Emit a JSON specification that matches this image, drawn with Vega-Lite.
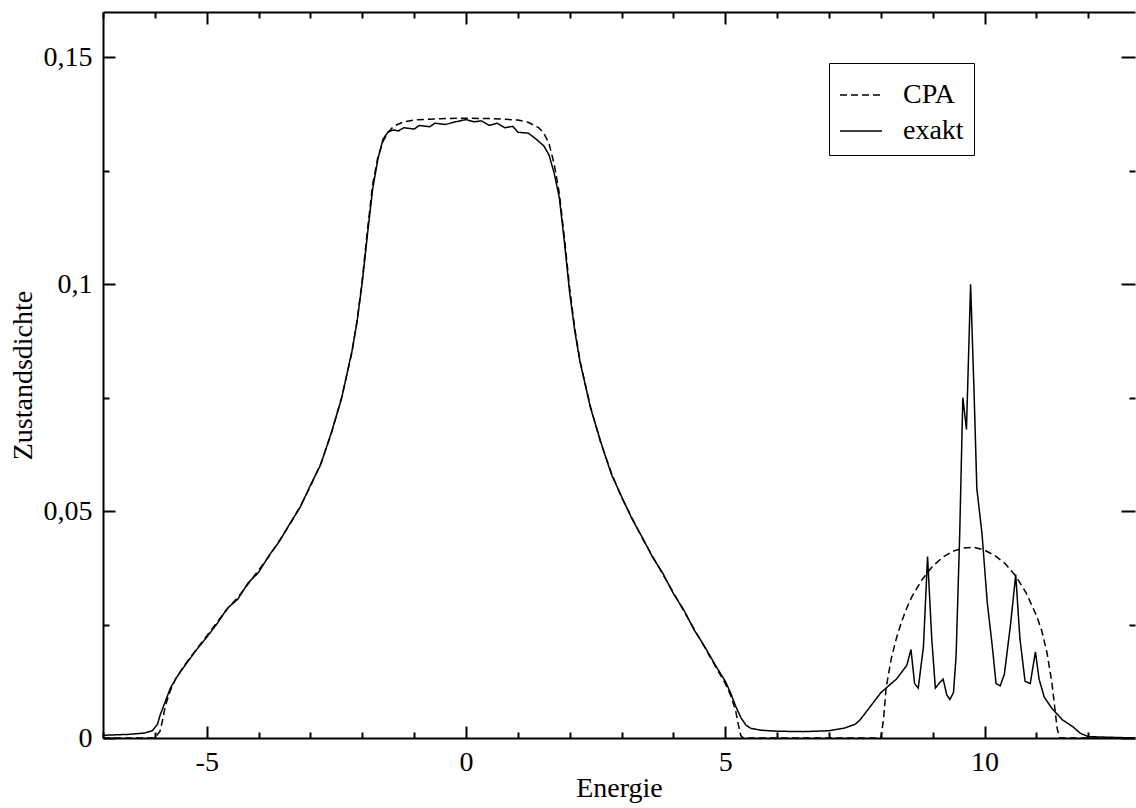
{
  "$schema": "https://vega.github.io/schema/vega-lite/v6.json",
  "width": 1032,
  "height": 726,
  "autosize": "none",
  "padding": {"left": 103, "top": 12, "right": 1, "bottom": 70},
  "background": "white",
  "config": {"view": {"stroke": null}, "font": "'Liberation Serif', serif"},
  "datasets": {
    "dos": [
      {"s":"CPA","x":-7.0,"y":0},{"s":"CPA","x":-6.0,"y":0},{"s":"CPA","x":-5.9,"y":0.0015},{"s":"CPA","x":-5.85,"y":0.004},{"s":"CPA","x":-5.8,"y":0.007},{"s":"CPA","x":-5.7,"y":0.0105},{"s":"CPA","x":-5.6,"y":0.013},{"s":"CPA","x":-5.5,"y":0.0148},{"s":"CPA","x":-5.4,"y":0.0165},{"s":"CPA","x":-5.2,"y":0.0195},{"s":"CPA","x":-5.0,"y":0.0225},{"s":"CPA","x":-4.8,"y":0.0255},{"s":"CPA","x":-4.6,"y":0.0285},{"s":"CPA","x":-4.4,"y":0.031},{"s":"CPA","x":-4.2,"y":0.034},{"s":"CPA","x":-4.0,"y":0.037},{"s":"CPA","x":-3.8,"y":0.04},{"s":"CPA","x":-3.6,"y":0.0435},{"s":"CPA","x":-3.4,"y":0.047},{"s":"CPA","x":-3.2,"y":0.051},{"s":"CPA","x":-3.0,"y":0.0555},{"s":"CPA","x":-2.8,"y":0.0605},{"s":"CPA","x":-2.6,"y":0.067},{"s":"CPA","x":-2.4,"y":0.075},{"s":"CPA","x":-2.2,"y":0.085},{"s":"CPA","x":-2.1,"y":0.092},{"s":"CPA","x":-2.0,"y":0.101},{"s":"CPA","x":-1.9,"y":0.112},{"s":"CPA","x":-1.8,"y":0.122},{"s":"CPA","x":-1.7,"y":0.128},{"s":"CPA","x":-1.6,"y":0.1315},{"s":"CPA","x":-1.5,"y":0.1335},{"s":"CPA","x":-1.4,"y":0.1348},{"s":"CPA","x":-1.2,"y":0.1358},{"s":"CPA","x":-1.0,"y":0.1362},{"s":"CPA","x":-0.5,"y":0.1365},{"s":"CPA","x":0.0,"y":0.1366},{"s":"CPA","x":0.5,"y":0.1365},{"s":"CPA","x":1.0,"y":0.1362},{"s":"CPA","x":1.2,"y":0.1357},{"s":"CPA","x":1.4,"y":0.1345},{"s":"CPA","x":1.5,"y":0.1333},{"s":"CPA","x":1.6,"y":0.131},{"s":"CPA","x":1.7,"y":0.1265},{"s":"CPA","x":1.8,"y":0.12},{"s":"CPA","x":1.9,"y":0.11},{"s":"CPA","x":2.0,"y":0.099},{"s":"CPA","x":2.1,"y":0.09},{"s":"CPA","x":2.2,"y":0.083},{"s":"CPA","x":2.4,"y":0.073},{"s":"CPA","x":2.6,"y":0.065},{"s":"CPA","x":2.8,"y":0.0585},{"s":"CPA","x":3.0,"y":0.053},{"s":"CPA","x":3.2,"y":0.0485},{"s":"CPA","x":3.4,"y":0.044},{"s":"CPA","x":3.6,"y":0.04},{"s":"CPA","x":3.8,"y":0.036},{"s":"CPA","x":4.0,"y":0.032},{"s":"CPA","x":4.2,"y":0.028},{"s":"CPA","x":4.4,"y":0.024},{"s":"CPA","x":4.6,"y":0.02},{"s":"CPA","x":4.8,"y":0.016},{"s":"CPA","x":5.0,"y":0.012},{"s":"CPA","x":5.1,"y":0.0095},{"s":"CPA","x":5.2,"y":0.006},{"s":"CPA","x":5.25,"y":0.003},{"s":"CPA","x":5.3,"y":0.0005},{"s":"CPA","x":5.35,"y":0},{"s":"CPA","x":6.5,"y":0},{"s":"CPA","x":8.0,"y":0},{"s":"CPA","x":8.05,"y":0.004},{"s":"CPA","x":8.1,"y":0.011},{"s":"CPA","x":8.2,"y":0.0175},{"s":"CPA","x":8.3,"y":0.022},{"s":"CPA","x":8.4,"y":0.0257},{"s":"CPA","x":8.5,"y":0.0287},{"s":"CPA","x":8.6,"y":0.0312},{"s":"CPA","x":8.8,"y":0.035},{"s":"CPA","x":9.0,"y":0.0379},{"s":"CPA","x":9.2,"y":0.0399},{"s":"CPA","x":9.4,"y":0.0412},{"s":"CPA","x":9.6,"y":0.0419},{"s":"CPA","x":9.8,"y":0.042},{"s":"CPA","x":10.0,"y":0.0414},{"s":"CPA","x":10.2,"y":0.0402},{"s":"CPA","x":10.4,"y":0.0384},{"s":"CPA","x":10.6,"y":0.0357},{"s":"CPA","x":10.8,"y":0.032},{"s":"CPA","x":11.0,"y":0.027},{"s":"CPA","x":11.1,"y":0.0237},{"s":"CPA","x":11.2,"y":0.019},{"s":"CPA","x":11.3,"y":0.012},{"s":"CPA","x":11.35,"y":0.007},{"s":"CPA","x":11.4,"y":0.002},{"s":"CPA","x":11.45,"y":0},{"s":"CPA","x":12.9,"y":0},

      {"s":"exakt","x":-7.0,"y":0.0006},{"s":"exakt","x":-6.5,"y":0.0008},{"s":"exakt","x":-6.2,"y":0.0011},{"s":"exakt","x":-6.05,"y":0.0016},{"s":"exakt","x":-5.95,"y":0.003},{"s":"exakt","x":-5.9,"y":0.005},{"s":"exakt","x":-5.8,"y":0.008},{"s":"exakt","x":-5.7,"y":0.011},{"s":"exakt","x":-5.6,"y":0.013},{"s":"exakt","x":-5.5,"y":0.0147},{"s":"exakt","x":-5.4,"y":0.0163},{"s":"exakt","x":-5.2,"y":0.0194},{"s":"exakt","x":-5.0,"y":0.0222},{"s":"exakt","x":-4.8,"y":0.0252},{"s":"exakt","x":-4.6,"y":0.0286},{"s":"exakt","x":-4.4,"y":0.0306},{"s":"exakt","x":-4.2,"y":0.0342},{"s":"exakt","x":-4.0,"y":0.0365},{"s":"exakt","x":-3.8,"y":0.0402},{"s":"exakt","x":-3.6,"y":0.0433},{"s":"exakt","x":-3.4,"y":0.0472},{"s":"exakt","x":-3.2,"y":0.0508},{"s":"exakt","x":-3.0,"y":0.0557},{"s":"exakt","x":-2.8,"y":0.0603},{"s":"exakt","x":-2.6,"y":0.0672},{"s":"exakt","x":-2.4,"y":0.0748},{"s":"exakt","x":-2.2,"y":0.0852},{"s":"exakt","x":-2.1,"y":0.0918},{"s":"exakt","x":-2.0,"y":0.1005},{"s":"exakt","x":-1.9,"y":0.111},{"s":"exakt","x":-1.8,"y":0.121},{"s":"exakt","x":-1.7,"y":0.1275},{"s":"exakt","x":-1.6,"y":0.132},{"s":"exakt","x":-1.5,"y":0.1336},{"s":"exakt","x":-1.4,"y":0.134},{"s":"exakt","x":-1.3,"y":0.1338},{"s":"exakt","x":-1.2,"y":0.1345},{"s":"exakt","x":-1.0,"y":0.1342},{"s":"exakt","x":-0.9,"y":0.135},{"s":"exakt","x":-0.7,"y":0.1347},{"s":"exakt","x":-0.6,"y":0.1355},{"s":"exakt","x":-0.4,"y":0.1352},{"s":"exakt","x":-0.2,"y":0.1358},{"s":"exakt","x":0.0,"y":0.1363},{"s":"exakt","x":0.15,"y":0.1358},{"s":"exakt","x":0.3,"y":0.136},{"s":"exakt","x":0.45,"y":0.135},{"s":"exakt","x":0.6,"y":0.1355},{"s":"exakt","x":0.75,"y":0.1345},{"s":"exakt","x":0.9,"y":0.1348},{"s":"exakt","x":1.0,"y":0.1335},{"s":"exakt","x":1.2,"y":0.1333},{"s":"exakt","x":1.35,"y":0.132},{"s":"exakt","x":1.5,"y":0.1305},{"s":"exakt","x":1.6,"y":0.1285},{"s":"exakt","x":1.7,"y":0.1245},{"s":"exakt","x":1.8,"y":0.119},{"s":"exakt","x":1.9,"y":0.109},{"s":"exakt","x":2.0,"y":0.098},{"s":"exakt","x":2.1,"y":0.0895},{"s":"exakt","x":2.2,"y":0.0828},{"s":"exakt","x":2.4,"y":0.0728},{"s":"exakt","x":2.6,"y":0.0652},{"s":"exakt","x":2.8,"y":0.0582},{"s":"exakt","x":3.0,"y":0.0532},{"s":"exakt","x":3.2,"y":0.0483},{"s":"exakt","x":3.4,"y":0.0442},{"s":"exakt","x":3.6,"y":0.0398},{"s":"exakt","x":3.8,"y":0.0362},{"s":"exakt","x":4.0,"y":0.0318},{"s":"exakt","x":4.2,"y":0.0282},{"s":"exakt","x":4.4,"y":0.0238},{"s":"exakt","x":4.6,"y":0.0202},{"s":"exakt","x":4.8,"y":0.0162},{"s":"exakt","x":5.0,"y":0.0125},{"s":"exakt","x":5.1,"y":0.01},{"s":"exakt","x":5.2,"y":0.007},{"s":"exakt","x":5.3,"y":0.0045},{"s":"exakt","x":5.4,"y":0.0028},{"s":"exakt","x":5.5,"y":0.0021},{"s":"exakt","x":5.7,"y":0.0017},{"s":"exakt","x":6.0,"y":0.0015},{"s":"exakt","x":6.5,"y":0.0014},{"s":"exakt","x":7.0,"y":0.0016},{"s":"exakt","x":7.3,"y":0.0022},{"s":"exakt","x":7.5,"y":0.003},{"s":"exakt","x":7.6,"y":0.004},{"s":"exakt","x":7.7,"y":0.0055},{"s":"exakt","x":7.8,"y":0.007},{"s":"exakt","x":7.9,"y":0.0085},{"s":"exakt","x":8.0,"y":0.01},{"s":"exakt","x":8.1,"y":0.011},{"s":"exakt","x":8.2,"y":0.012},{"s":"exakt","x":8.3,"y":0.013},{"s":"exakt","x":8.4,"y":0.0145},{"s":"exakt","x":8.5,"y":0.016},{"s":"exakt","x":8.58,"y":0.0195},{"s":"exakt","x":8.65,"y":0.012},{"s":"exakt","x":8.72,"y":0.011},{"s":"exakt","x":8.82,"y":0.02},{"s":"exakt","x":8.9,"y":0.04},{"s":"exakt","x":8.98,"y":0.022},{"s":"exakt","x":9.05,"y":0.011},{"s":"exakt","x":9.12,"y":0.012},{"s":"exakt","x":9.2,"y":0.013},{"s":"exakt","x":9.27,"y":0.0095},{"s":"exakt","x":9.33,"y":0.0085},{"s":"exakt","x":9.4,"y":0.01},{"s":"exakt","x":9.45,"y":0.018},{"s":"exakt","x":9.52,"y":0.045},{"s":"exakt","x":9.58,"y":0.075},{"s":"exakt","x":9.65,"y":0.068},{"s":"exakt","x":9.73,"y":0.1},{"s":"exakt","x":9.8,"y":0.075},{"s":"exakt","x":9.85,"y":0.055},{"s":"exakt","x":9.95,"y":0.045},{"s":"exakt","x":10.05,"y":0.03},{"s":"exakt","x":10.15,"y":0.02},{"s":"exakt","x":10.22,"y":0.012},{"s":"exakt","x":10.3,"y":0.0115},{"s":"exakt","x":10.38,"y":0.014},{"s":"exakt","x":10.5,"y":0.025},{"s":"exakt","x":10.6,"y":0.036},{"s":"exakt","x":10.68,"y":0.022},{"s":"exakt","x":10.78,"y":0.0125},{"s":"exakt","x":10.88,"y":0.012},{"s":"exakt","x":10.98,"y":0.019},{"s":"exakt","x":11.05,"y":0.013},{"s":"exakt","x":11.15,"y":0.009},{"s":"exakt","x":11.3,"y":0.0065},{"s":"exakt","x":11.5,"y":0.004},{"s":"exakt","x":11.7,"y":0.0025},{"s":"exakt","x":11.85,"y":0.001},{"s":"exakt","x":12.0,"y":0.0003},{"s":"exakt","x":12.9,"y":0}
    ]
  },
  "data": {"name": "dos"},
  "layer": [
    {
      "mark": {"type": "line", "color": "black", "strokeWidth": 1.5, "clip": true},
      "encoding": {
        "x": {
          "field": "x", "type": "quantitative",
          "scale": {"domain": [-7, 12.9], "nice": false, "zero": false},
          "axis": {
            "orient": "bottom", "title": "Energie",
            "values": [-7,-6,-5,-4,-3,-2,-1,0,1,2,3,4,5,6,7,8,9,10,11,12],
            "labelExpr": "datum.value % 5 === 0 ? (datum.value < 0 ? '-' + abs(datum.value) : '' + datum.value) : ''",
            "tickSize": {"condition": {"test": "datum.value % 5 === 0", "value": -12}, "value": -6},
            "grid": false, "domainColor": "black", "domainWidth": 2, "tickColor": "black", "tickWidth": 2,
            "labelFont": "'Liberation Serif', serif", "labelFontSize": 28, "labelColor": "black", "labelPadding": 22,
            "labelFlush": false, "labelOverlap": false,
            "titleFont": "'Liberation Serif', serif", "titleFontSize": 28, "titleFontWeight": "normal", "titleColor": "black", "titlePadding": -8
          }
        },
        "y": {
          "field": "y", "type": "quantitative",
          "scale": {"domain": [0, 0.16], "nice": false},
          "axis": {
            "orient": "left", "title": "Zustandsdichte",
            "values": [0, 0.025, 0.05, 0.075, 0.1, 0.125, 0.15],
            "labelExpr": "abs(datum.value*20 - round(datum.value*20)) < 1e-6 ? replace(format(datum.value, '~g'), '.', ',') : ''",
            "tickSize": {"condition": {"test": "abs(datum.value*20 - round(datum.value*20)) < 1e-6", "value": -12}, "value": -6},
            "grid": false, "domainColor": "black", "domainWidth": 2, "tickColor": "black", "tickWidth": 2,
            "labelFont": "'Liberation Serif', serif", "labelFontSize": 28, "labelColor": "black", "labelPadding": 23,
            "labelFlush": false, "labelOverlap": false,
            "titleFont": "'Liberation Serif', serif", "titleFontSize": 28, "titleFontWeight": "normal", "titleColor": "black", "titlePadding": 6
          }
        },
        "strokeDash": {
          "field": "s", "type": "nominal",
          "scale": {"domain": ["CPA", "exakt"], "range": [[7, 4], [1, 0]]},
          "legend": {
            "title": null, "orient": "none", "legendX": 726, "legendY": 51, "direction": "vertical",
            "padding": 10, "strokeColor": "black", "fillColor": "white",
            "symbolType": "stroke", "symbolSize": 1764, "symbolStrokeWidth": 1.5, "symbolStrokeColor": "black",
            "labelFont": "'Liberation Serif', serif", "labelFontSize": 28, "labelColor": "black", "labelOffset": 20, "rowPadding": 0
          }
        }
      }
    },
    {
      "mark": {"type": "line", "opacity": 0},
      "encoding": {
        "x": {
          "field": "x", "type": "quantitative",
          "axis": {
            "orient": "top", "title": null, "labels": false,
            "values": [-7,-6,-5,-4,-3,-2,-1,0,1,2,3,4,5,6,7,8,9,10,11,12],
            "tickSize": {"condition": {"test": "datum.value % 5 === 0", "value": -12}, "value": -6},
            "grid": false, "domainColor": "black", "domainWidth": 2, "tickColor": "black", "tickWidth": 2
          }
        },
        "y": {
          "field": "y", "type": "quantitative",
          "axis": {
            "orient": "right", "title": null, "labels": false, "domain": false,
            "values": [0, 0.025, 0.05, 0.075, 0.1, 0.125, 0.15],
            "tickSize": {"condition": {"test": "abs(datum.value*20 - round(datum.value*20)) < 1e-6", "value": -14}, "value": -6},
            "grid": false, "tickColor": "black", "tickWidth": 2
          }
        },
        "detail": {"field": "s", "type": "nominal"}
      }
    }
  ],
  "resolve": {"axis": {"x": "independent", "y": "independent"}}
}
